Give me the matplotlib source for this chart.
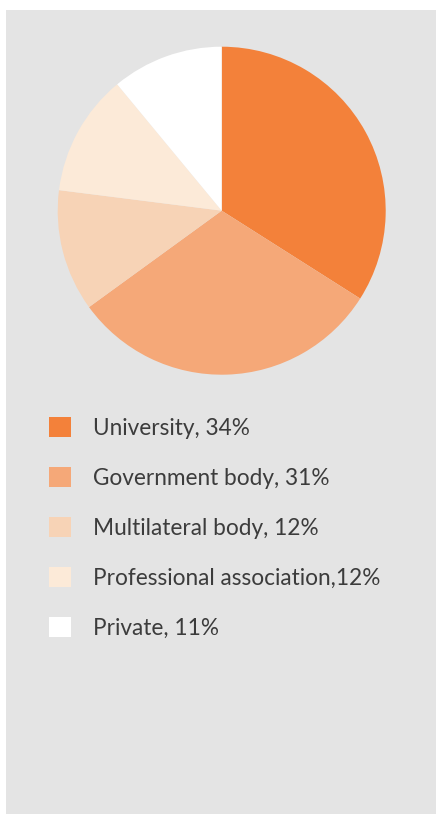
import matplotlib
matplotlib.use("Agg")
import matplotlib.pyplot as plt
from matplotlib.patches import Patch

labels = ["University, 34%", "Government body, 31%", "Multilateral body, 12%",
          "Professional association,12%", "Private, 11%"]
shares = [34, 31, 12, 12, 11]
colors = ["#F3813A", "#F5A878", "#F7D3B6", "#FCEAD8", "#FFFFFF"]

plt.rcParams['font.family'] = ['Lato', 'DejaVu Sans']

W, H = 436, 814
fig = plt.figure(figsize=(W / 100, H / 100), dpi=100)

# grey panel
bg = fig.add_axes([6 / W, 0, 1 - 6 / W, 1 - 10 / H])
bg.set_facecolor("#E4E4E4")
bg.set_xticks([])
bg.set_yticks([])
for s in bg.spines.values():
    s.set_visible(False)

# pie
cx, cy, r = 221.7, 210.7, 164
ax = fig.add_axes([(cx - r) / W, (H - cy - r) / H, 2 * r / W, 2 * r / H])
ax.pie(shares, colors=colors, startangle=90, counterclock=False, radius=1,
       wedgeprops=dict(linewidth=0))
ax.set_xlim(-1, 1)
ax.set_ylim(-1, 1)
ax.set_aspect("equal")
ax.axis("off")

handles = [Patch(facecolor=c, edgecolor="none") for c in colors]
fs = 16.3
leg = fig.legend(handles, labels, loc="upper left",
                 bbox_to_anchor=(49 / W, 1 - 417 / H),
                 frameon=False, fontsize=fs, handlelength=22 * 0.72 / fs,
                 handleheight=22 * 0.72 / fs, handletextpad=(93 - 71) * 0.72 / fs,
                 labelspacing=1.25, borderpad=0, borderaxespad=0)
for t in leg.get_texts():
    t.set_color("#3C3C3C")

fig.savefig("out.png", dpi=100)
